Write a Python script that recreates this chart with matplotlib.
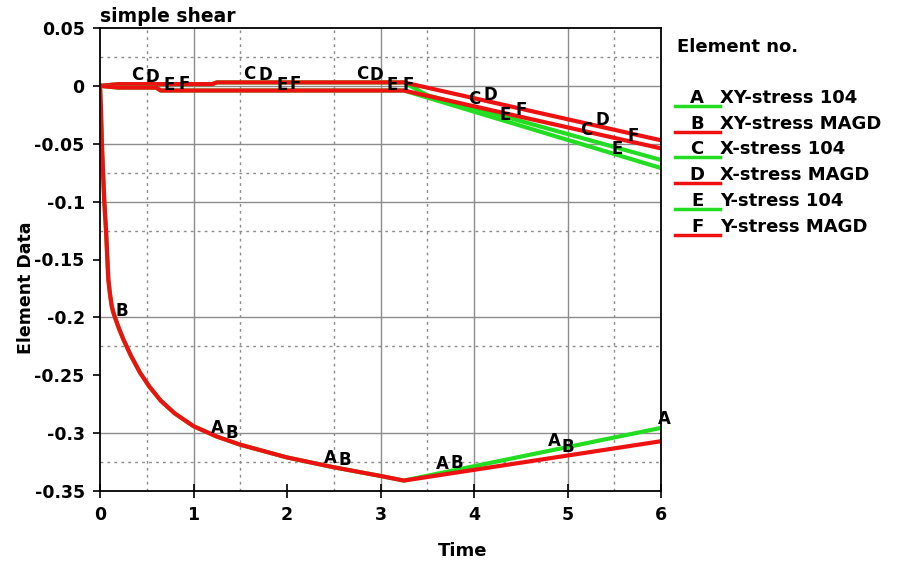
import numpy as np
import matplotlib
matplotlib.use("Agg")
from matplotlib import pyplot as plt
from matplotlib.lines import Line2D

# XY (shear) stress of both elements
t_xy = [0, 0.01, 0.02, 0.046, 0.064, 0.089, 0.107, 0.125, 0.14, 0.16, 0.2,
        0.25, 0.33, 0.43, 0.53, 0.65, 0.8, 1.0, 1.25, 1.5, 2.0, 2.5, 3.0,
        3.25, 6.0]
xy_stress_104 = [0, -0.02, -0.05, -0.1, -0.124, -0.167, -0.18, -0.19, -0.195,
                 -0.2, -0.209, -0.219, -0.233, -0.248, -0.26, -0.272, -0.283,
                 -0.294, -0.303, -0.31, -0.321, -0.3295, -0.337, -0.341,
                 -0.2955]
xy_stress_magd = [0, -0.02, -0.05, -0.1, -0.124, -0.167, -0.18, -0.19, -0.195,
                  -0.2, -0.209, -0.219, -0.233, -0.248, -0.26, -0.272, -0.283,
                  -0.294, -0.303, -0.31, -0.321, -0.3295, -0.337, -0.341,
                  -0.307]

# normal stresses
t_x_104 = [0, 0.2, 1.2, 1.25, 3.25, 3.5, 6.0]
x_stress_104 = [0, 0.0015, 0.0015, 0.003, 0.003, -0.008, -0.064]
t_x_magd = [0, 0.2, 1.2, 1.25, 3.25, 6.0]
x_stress_magd = [0, 0.0015, 0.0015, 0.003, 0.003, -0.047]
t_y = [0, 0.2, 0.6, 0.65, 3.25, 6.0]
y_stress_104 = [0, -0.0015, -0.0015, -0.004, -0.004, -0.071]
y_stress_magd = [0, -0.0015, -0.0015, -0.004, -0.004, -0.054]

letters = ['A', 'B', 'C', 'D', 'E', 'F']
series_names = ['XY-stress 104', 'XY-stress MAGD', 'X-stress 104',
                'X-stress MAGD', 'Y-stress 104', 'Y-stress MAGD']

# times at which the curve letters are written
label_times = {
    'A': [1.25, 2.46, 3.66, 4.86, 6.0],
    'B': [0.17, 1.41, 2.62, 3.82, 5.0],
    'C': [0.40, 1.60, 2.80, 4.00, 5.20],
    'D': [0.56, 1.77, 2.96, 4.17, 5.37],
    'E': [0.74, 1.95, 3.13, 4.33, 5.53],
    'F': [0.90, 2.09, 3.30, 4.50, 5.70],
}

x_ticks = [0, 1, 2, 3, 4, 5, 6]
x_tick_labels = ['0', '1', '2', '3', '4', '5', '6']
y_ticks = [0.05, 0, -0.05, -0.1, -0.15, -0.2, -0.25, -0.3, -0.35]
y_tick_labels = ['0.05', '0', '-0.05', '-0.1', '-0.15', '-0.2', '-0.25',
                 '-0.3', '-0.35']

GREEN = '#22dd22'
RED = '#ee1111'
FONT = dict(family='DejaVu Sans', fontweight='bold')

# per-letter text offset (points) from the curve point
label_dy = {'A': 6.3, 'B': 6.5, 'C': 6.4, 'D': 5.2, 'E': 4.0, 'F': 4.6}
label_dx = {('A', 4): 2.5, ('B', 0): 4.0}


def draw_grid(ax):
    for x in [1, 3, 4, 5]:
        ax.axvline(x, color='#8c8c8c', lw=1.0, zorder=0)
    for x in [0.5, 1.5, 2.5, 3.5, 5.5]:
        ax.axvline(x, color='#8c8c8c', lw=1.0, ls=(0, (2, 3)), zorder=0)
    for y in [0, -0.05, -0.1, -0.2, -0.3]:
        ax.axhline(y, color='#8c8c8c', lw=1.0, zorder=0)
    for y in [0.025, -0.075, -0.125, -0.225, -0.325]:
        ax.axhline(y, color='#8c8c8c', lw=1.0, ls=(0, (2, 3)), zorder=0)


def run():
    fig = plt.figure(figsize=(9.13, 5.65), dpi=100)
    ax = fig.add_axes([100 / 913, 1 - 491 / 565, 561 / 913, 463 / 565])

    draw_grid(ax)

    curves = [
        (t_xy, xy_stress_104, GREEN),
        (t_xy, xy_stress_magd, RED),
        (t_x_104, x_stress_104, GREEN),
        (t_x_magd, x_stress_magd, RED),
        (t_y, y_stress_104, GREEN),
        (t_y, y_stress_magd, RED),
    ]
    for (t, v, color), letter in zip(curves, letters):
        ax.plot(t, v, color=color, lw=3.0, solid_joinstyle='round', zorder=2)
        for i, tl in enumerate(label_times[letter]):
            ax.annotate(letter, (tl, np.interp(tl, t, v)),
                        xytext=(label_dx.get((letter, i), 0), label_dy[letter]),
                        textcoords='offset points', ha='center', va='center',
                        fontsize=12, annotation_clip=False, zorder=3, **FONT)

    ax.set_xlim(0, 6)
    ax.set_ylim(-0.35, 0.05)
    ax.set_xticks(x_ticks)
    ax.set_xticklabels(x_tick_labels, fontsize=12.5, **FONT)
    ax.set_yticks(y_ticks)
    ax.set_yticklabels(y_tick_labels, fontsize=12.5, **FONT)
    ax.tick_params(axis='x', direction='inout', length=10, width=1.2, pad=6)
    ax.tick_params(axis='y', direction='out', length=5, width=1.2, pad=6)
    for spine in ax.spines.values():
        spine.set_linewidth(1.3)
        spine.set_color('black')

    fig.text(100 / 913, 1 - 16 / 565, 'simple shear', ha='left', va='center',
             fontsize=13.5, **FONT)
    fig.text(463 / 913, 1 - 551 / 565, 'Time', ha='center', va='center',
             fontsize=13, **FONT)
    fig.text(26 / 913, 1 - 288 / 565, 'Element Data', ha='center', va='center',
             rotation=90, fontsize=12.5, **FONT)

    # legend drawn by hand: underlined letter followed by the series name
    fig.text(677 / 913, 1 - 47 / 565, 'Element no.', ha='left', va='center',
             fontsize=13, **FONT)
    for i, (letter, name, (_, _, color)) in enumerate(zip(letters, series_names, curves)):
        yc = 98 + i * 25.7
        yl = 1 - (yc + 8) / 565
        fig.add_artist(Line2D([675 / 913, 720 / 913], [yl, yl], color=color,
                              lw=2.5, transform=fig.transFigure))
        fig.text(697 / 913, 1 - yc / 565, letter, ha='center', va='center',
                 fontsize=13, **FONT)
        fig.text(720 / 913, 1 - yc / 565, name, ha='left', va='center',
                 fontsize=13, **FONT)

    fig.savefig('out.png', dpi=100, facecolor='white')


if __name__ == "__main__":
    run()
